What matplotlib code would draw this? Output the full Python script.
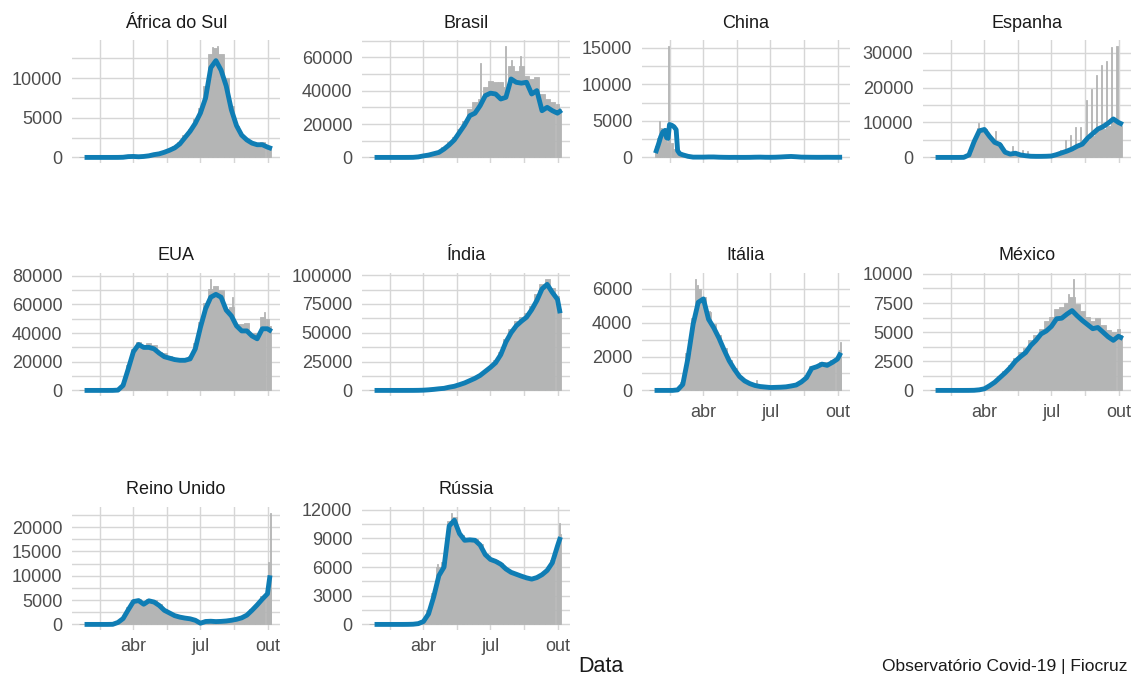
import numpy as np
import matplotlib.pyplot as plt
from matplotlib.ticker import FixedLocator, MultipleLocator, FuncFormatter

plt.rcParams['font.family'] = ['Liberation Sans', 'DejaVu Sans']

# dias contados a partir de 22/01/2020: um valor por semana + o ultimo dia
dias = list(range(0, 253, 7)) + [255]

africa_linha = [0, 0, 0, 0, 0, 0, 0, 2, 20, 100,
                120, 80, 120, 200, 350, 450, 650, 900, 1200, 1700,
                2500, 3300, 4300, 5600, 7500, 11300, 12200, 11000, 9000, 6000,
                4000, 2800, 2200, 1800, 1600, 1600, 1300, 1200]
africa_barras = [0, 0, 0, 0, 0, 0, 0, 5, 40, 150,
                 150, 90, 150, 250, 400, 500, 700, 1000, 1400, 1900,
                 2800, 3600, 4800, 6200, 9000, 13000, 13800, 13000, 10000, 6500,
                 3900, 2700, 2200, 1900, 1700, 1900, 1500, 1300]
africa_picos_d = [178, 184]
africa_picos_v = [13900, 14100]

brasil_linha = [0, 0, 0, 0, 0, 0, 1, 10, 50, 300,
                900, 1400, 2200, 3000, 5000, 7500, 10500, 15000, 19500, 25000,
                26500, 31000, 37000, 38500, 38000, 35000, 36000, 47000, 45000, 44500,
                45000, 38000, 40000, 28000, 30000, 28000, 26500, 27500]
brasil_barras = [0, 0, 0, 0, 0, 0, 2, 15, 80, 400,
                 1100, 1600, 2500, 3500, 6000, 9000, 12000, 17000, 22000, 29000,
                 33000, 35000, 42000, 46000, 45000, 45000, 42000, 55000, 52000, 55000,
                 49000, 47000, 48000, 38000, 35000, 33000, 32000, 29000]
brasil_picos_d = [148, 181, 190, 202]
brasil_picos_v = [56500, 67000, 58500, 61000]

# a China tem mais detalhe em fevereiro
china_dias = [6, 9, 12, 15, 18, 20, 22, 24, 27, 30, 33, 35, 38, 42, 49, 56, 63] + list(range(70, 253, 7)) + [255]
china_linha = [900, 1800, 2800, 3500, 3700, 2700, 2600, 4500, 4400, 4200, 3800, 900, 500, 350, 150, 40, 40,
               40, 60, 60, 30, 15, 5, 10, 5, 5, 10, 30, 40, 20, 15, 30, 60, 100, 130, 90, 40,
               30, 20, 15, 15, 20, 15, 15, 20]
china_barras = [1500, 2600, 4000, 3600, 3000, 2200, 2000, 3500, 2000, 1200, 600, 450, 350, 150, 50, 30, 40,
                50, 70, 70, 40, 20, 10, 15, 10, 10, 15, 40, 50, 30, 20, 40, 80, 120, 150, 100, 50,
                40, 30, 20, 20, 25, 20, 20, 25]
china_picos_d = [10, 22]
china_picos_v = [5000, 15300]

espanha_linha = [0, 0, 0, 0, 0, 0, 20, 700, 4500, 7600,
                 8000, 6000, 4300, 3700, 1500, 950, 1200, 700, 480, 330,
                 300, 300, 330, 400, 800, 1300, 1800, 2400, 3200, 3800,
                 5500, 6800, 8100, 8800, 9800, 11000, 10000, 9700]
espanha_barras = [0, 0, 0, 0, 0, 0, 30, 900, 5000, 8500,
                  8000, 5500, 4300, 3800, 1400, 900, 1000, 500, 400, 300,
                  250, 250, 300, 350, 700, 1200, 1600, 2200, 3000, 3500,
                  5000, 6000, 7500, 8000, 9000, 10000, 9500, 9000]
espanha_picos_d = [62, 85, 108, 122, 129, 173, 180, 187, 194, 201, 208, 215, 222, 229, 236, 243, 250]
espanha_picos_v = [9800, 7500, 3300, 2000, 1800, 2000, 4900, 6500, 8700, 8700,
                   16500, 19500, 23500, 26500, 27500, 31500, 32000]

eua_linha = [0, 0, 0, 0, 0, 0, 20, 200, 3500, 15000,
             27000, 32000, 30000, 30000, 29000, 26000, 23500, 22500, 21500, 21000,
             21000, 22000, 29000, 44000, 57000, 65000, 67000, 65000, 56000, 52000,
             45000, 41500, 41500, 38000, 36000, 43000, 43000, 42000]
eua_barras = [0, 0, 0, 0, 0, 0, 30, 300, 5000, 18000,
              29000, 34000, 32000, 33000, 32000, 27000, 26000, 24000, 22000, 22000,
              22000, 24000, 33000, 48000, 61000, 71000, 73000, 70000, 57000, 58000,
              46000, 46000, 47000, 40000, 40000, 51000, 50000, 45000]
eua_picos_d = [174, 205, 248]
eua_picos_v = [78000, 65000, 55000]

india_linha = [0, 0, 0, 0, 0, 0, 0, 5, 20, 70,
               200, 500, 900, 1400, 1800, 2800, 3600, 5000, 6500, 8500,
               10500, 13000, 16500, 20000, 24000, 31000, 42000, 50000, 56000, 60000,
               63500, 70000, 78000, 88000, 92000, 85000, 79000, 69000]
india_barras = [0, 0, 0, 0, 0, 0, 0, 5, 30, 100,
                300, 600, 1000, 1500, 2000, 3200, 3800, 5500, 7000, 9000,
                11000, 14000, 18000, 21000, 26000, 33000, 45000, 53000, 60000, 64000,
                67000, 73000, 84000, 92000, 97000, 89000, 82000, 71000]
india_picos_d = [226]
india_picos_v = [87000]

italia_linha = [0, 0, 0, 0, 0, 30, 350, 1900, 3900, 5200,
                5400, 4200, 3700, 3100, 2400, 1750, 1250, 820, 560, 400,
                290, 230, 200, 170, 180, 190, 210, 260, 320, 500,
                750, 1300, 1400, 1550, 1480, 1650, 1850, 2100]
italia_barras = [0, 0, 0, 0, 0, 60, 500, 2200, 4300, 6000,
                 5500, 4600, 3900, 3300, 2500, 1800, 1300, 850, 580, 420,
                 300, 240, 210, 190, 200, 210, 240, 290, 380, 550,
                 900, 1450, 1500, 1700, 1650, 1800, 2000, 2400]
italia_picos_d = [59, 62, 78, 142, 256]
italia_picos_v = [6600, 6200, 4700, 630, 2850]

mexico_linha = [0, 0, 0, 0, 0, 0, 0, 2, 10, 50,
                140, 400, 700, 1100, 1500, 1950, 2500, 2900, 3250, 3860,
                4300, 4850, 5100, 5500, 6150, 6200, 6550, 6850, 6400, 6000,
                5650, 5300, 5400, 5000, 4600, 4300, 4650, 4550]
mexico_barras = [0, 0, 0, 0, 0, 0, 0, 2, 15, 70,
                 180, 450, 800, 1250, 1700, 2200, 2800, 3300, 3600, 4300,
                 4800, 5300, 6000, 6300, 7000, 7200, 7500, 8000, 7400, 6800,
                 6300, 6000, 6200, 5600, 5200, 5000, 5300, 4800]
mexico_picos_d = [184, 191]
mexico_picos_v = [8300, 9600]

reino_linha = [0, 0, 0, 0, 0, 0, 20, 400, 1200, 3000,
               4700, 4900, 4150, 4850, 4600, 3900, 2900, 2350, 1800, 1500,
               1300, 1150, 850, 250, 600, 650, 580, 620, 700, 850,
               1050, 1350, 1900, 2900, 4000, 5200, 6300, 9600]
reino_barras = [0, 0, 0, 0, 0, 0, 30, 500, 1500, 3500,
                5100, 5200, 4600, 5300, 5000, 4200, 3100, 2500, 1900, 1600,
                1400, 1200, 900, 400, 700, 750, 650, 700, 800, 950,
                1200, 1500, 2100, 3200, 4300, 5800, 7000, 7500]
reino_picos_d = [254, 256]
reino_picos_v = [12800, 23000]

russia_linha = [0, 0, 0, 0, 0, 0, 0, 5, 20, 80,
                300, 1100, 2900, 5100, 6000, 10300, 10900, 9500, 8800, 8850,
                8800, 8300, 7300, 6800, 6600, 6300, 5800, 5450, 5250, 5050,
                4870, 4740, 4900, 5200, 5650, 6450, 8200, 8900]
russia_barras = [0, 0, 0, 0, 0, 0, 0, 10, 30, 100,
                 500, 1500, 3300, 6000, 6500, 10800, 11200, 9500, 9000, 9000,
                 8900, 8400, 7400, 6900, 6700, 6400, 5900, 5500, 5300, 5100,
                 4950, 4800, 5000, 5300, 5800, 6700, 8500, 9500]
russia_picos_d = [89, 108, 125, 255]
russia_picos_v = [6300, 11700, 9400, 10600]

paises = ['África do Sul', 'Brasil', 'China', 'Espanha', 'EUA',
          'Índia', 'Itália', 'México', 'Reino Unido', 'Rússia']
series = [
    (dias, africa_linha, africa_barras, africa_picos_d, africa_picos_v),
    (dias, brasil_linha, brasil_barras, brasil_picos_d, brasil_picos_v),
    (china_dias, china_linha, china_barras, china_picos_d, china_picos_v),
    (dias, espanha_linha, espanha_barras, espanha_picos_d, espanha_picos_v),
    (dias, eua_linha, eua_barras, eua_picos_d, eua_picos_v),
    (dias, india_linha, india_barras, india_picos_d, india_picos_v),
    (dias, italia_linha, italia_barras, italia_picos_d, italia_picos_v),
    (dias, mexico_linha, mexico_barras, mexico_picos_d, mexico_picos_v),
    (dias, reino_linha, reino_barras, reino_picos_d, reino_picos_v),
    (dias, russia_linha, russia_barras, russia_picos_d, russia_picos_v),
]
passos_y = [5000, 20000, 5000, 10000, 20000, 25000, 2000, 2500, 5000, 3000]

# 01/abr, 01/jul, 01/out em dias desde 22/01
meses_d = [70, 161, 253]
meses_txt = ['abr', 'jul', 'out']
meses_menores = [24.5, 115.5, 207]

azul = '#0f7db4'
cinza = '#b4b5b5'
grade = '#d6d6d6'

W, H = 1135, 681
col_x = [72, 362, 642, 923]
lin_y = [40, 273, 507]
pw, ph = 208, 123

fig = plt.figure(figsize=(W / 100, H / 100), dpi=100)

for i, nome in enumerate(paises):
    r, c = divmod(i, 4)
    ax = fig.add_axes([col_x[c] / W, 1 - (lin_y[r] + ph) / H, pw / W, ph / H])
    d, linha, barras, pd_, pv = series[i]
    d = np.array(d)
    larg = np.gradient(d)
    ax.bar(d, barras, width=larg, color=cinza, edgecolor=cinza, linewidth=0.6, zorder=2)
    ax.bar(pd_, pv, width=1.4, color=cinza, edgecolor=cinza, linewidth=0.6, zorder=2)
    ini = 1 if d[0] == 0 else 0
    ax.plot(d[ini:], linha[ini:], color=azul, lw=3.5, zorder=3, solid_joinstyle='round')

    ymax = max(max(barras), max(pv), max(linha))
    ax.set_ylim(-0.05 * ymax, 1.05 * ymax)
    ax.set_xlim(-13.35, 269)

    passo = passos_y[i]
    ax.yaxis.set_major_locator(MultipleLocator(passo))
    ax.yaxis.set_minor_locator(MultipleLocator(passo / 2))
    ax.yaxis.set_major_formatter(FuncFormatter(lambda v, p: '%d' % round(v)))
    ax.xaxis.set_major_locator(FixedLocator(meses_d))
    ax.xaxis.set_minor_locator(FixedLocator(meses_menores))
    if i >= len(paises) - 4:
        ax.set_xticklabels(meses_txt)
    else:
        ax.set_xticklabels([])

    ax.grid(which='both', color=grade, lw=1.0, zorder=0)
    ax.set_axisbelow(True)
    for s in ax.spines.values():
        s.set_visible(False)
    ax.tick_params(which='both', length=0, labelsize=13, labelcolor='#4d4d4d')
    ax.tick_params(axis='y', pad=7)
    ax.tick_params(axis='x', pad=6)
    ax.set_title(nome, fontsize=13, color='#1a1a1a', pad=9)

fig.text(601 / W, 1 - 667 / H, 'Data', ha='center', va='center', fontsize=15.5, color='#1a1a1a')
fig.text(1127 / W, 1 - 666 / H, 'Observatório Covid-19 | Fiocruz', ha='right', va='center',
         fontsize=12.5, color='#1a1a1a')

fig.savefig('out.png', dpi=100)
